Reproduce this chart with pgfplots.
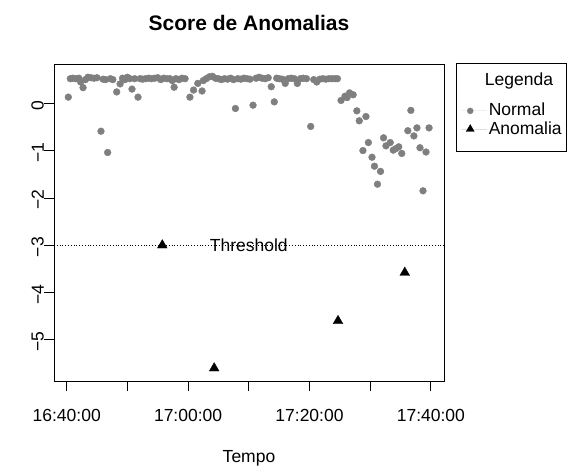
\documentclass[border=0pt]{standalone}
\usepackage{fontspec}
\setmainfont{Liberation Sans}
\usepackage{pgfplots}
\pgfplotsset{compat=1.18}
\definecolor{ptgray}{HTML}{7F7F7F}
\pgfplotstableread{
t y
0.27 0.13
0.6 0.52
1.0 0.53
1.5 0.52
2.0 0.53
2.3 0.45
2.7 0.33
3.1 0.50
3.5 0.55
4.0 0.54
4.5 0.53
5.0 0.54
5.65 -0.59
6.0 0.51
6.4 0.50
6.75 -1.04
7.2 0.52
7.6 0.50
8.24 0.24
8.8 0.41
9.2 0.53
9.6 0.50
10.0 0.55
10.4 0.52
10.76 0.30
11.2 0.52
11.75 0.13
12.1 0.52
12.5 0.51
13.0 0.52
13.5 0.53
14.0 0.52
14.5 0.53
15.0 0.54
15.5 0.50
16.0 0.53
16.5 0.52
17.0 0.52
17.4 0.48
17.7 0.34
18.0 0.52
18.5 0.50
19.0 0.53
19.5 0.52
20.3 0.13
20.9 0.28
21.6 0.42
22.3 0.26
22.5 0.48
23.0 0.52
23.5 0.56
24.0 0.57
24.5 0.53
25.0 0.52
25.5 0.50
26.0 0.52
26.5 0.51
27.0 0.53
27.5 0.50
27.8 -0.11
28.2 0.52
28.7 0.51
29.2 0.53
29.7 0.52
30.2 0.51
30.7 -0.04
31.2 0.53
31.7 0.55
32.2 0.53
32.7 0.52
33.2 0.54
33.7 0.35
34.2 0.03
34.6 0.53
35.0 0.52
35.5 0.51
36.0 0.42
36.5 0.52
37.0 0.53
37.5 0.52
38.0 0.42
38.5 0.52
39.0 0.53
39.5 0.52
40.2 -0.49
40.7 0.50
41.2 0.45
41.7 0.51
42.2 0.52
42.7 0.51
43.2 0.52
43.7 0.52
44.2 0.52
44.6 0.52
45.2 0.06
45.85 0.15
46.2 0.12
46.6 0.22
47.2 0.18
47.8 -0.16
48.2 -0.37
48.8 -1.00
49.3 -0.28
49.7 -0.83
50.3 -1.14
50.7 -1.33
51.2 -1.71
51.7 -1.44
52.2 -0.73
52.6 -0.90
53.3 -0.83
53.8 -0.99
54.2 -0.96
54.7 -0.92
55.2 -1.06
56.2 -0.58
56.7 -0.15
57.2 -0.69
57.7 -0.52
58.2 -0.94
58.7 -1.85
59.2 -1.03
59.7 -0.52
}\normaldata
\pgfplotstableread{
t y
15.75 -3.00
24.3 -5.60
44.7 -4.60
55.7 -3.58
}\anomdata
\begin{document}
\fontsize{17.5}{21}\selectfont
\begin{tikzpicture}[x=1pt,y=1pt]
\useasboundingbox (0,0) rectangle (568,467);
\begin{axis}[
  at={(54pt,86pt)}, anchor=south west,
  scale only axis, width=390pt, height=316.7pt,
  xmin=-2.09, xmax=62.16, ymin=-5.87, ymax=0.824,
  axis line style={line width=0.8pt},
  tick style={line width=0.8pt, black},
  tick align=outside, major tick length=10pt,
  xtick pos=bottom, ytick pos=left,
  xtick={0,10,20,30,40,50,60},
  xticklabels={16:40:00,,17:00:00,,17:20:00,,17:40:00},
  ytick={-5,-4,-3,-2,-1,0},
  yticklabels={−5,−4,−3,−2,−1,0},
  xticklabel style={font=\fontsize{17.5}{21}\selectfont, inner sep=0pt, anchor=north, yshift=-18.5pt},
  yticklabel style={font=\fontsize{17.5}{21}\selectfont, rotate=90, inner sep=0pt, anchor=south, xshift=-2pt},
  legend style={draw=none, fill=none, at={(1.045,0.884)}, anchor=north west,
    font=\fontsize{17.5}{21}\selectfont, row sep=-1pt, inner sep=0pt},
  legend cell align=left,
  legend image code/.code={\path[draw=none] (0pt,0pt) -- (25pt,0pt);\draw[#1] plot coordinates {(8.5pt,0pt)};},
]
\addplot[only marks, mark=*, mark size=3.4pt, draw=ptgray, fill=ptgray,
  forget plot] table[x=t,y=y] {\normaldata};
\addplot[dotted, line width=0.8pt, black, forget plot] coordinates {(-2.09,-3) (62.16,-3)};
\addplot[only marks, mark=triangle*, mark size=5.6pt, draw=black, fill=black,
  forget plot] table[x=t,y=y] {\anomdata};
\addlegendimage{only marks, mark=*, mark size=3pt, draw=ptgray, fill=ptgray}
\addlegendentry{Normal}
\addlegendimage{only marks, mark=triangle*, mark size=4.6pt, draw=black, fill=black}
\addlegendentry{Anomalia}
\node[font=\fontsize{17.5}{21}\selectfont] at (axis cs:30,-3) {Threshold};
\end{axis}
\node[anchor=base, font=\fontsize{21}{25}\selectfont\bfseries] at (249,436.5) {Score de Anomalias};
\node[anchor=base] at (249,5) {Tempo};
\draw[line width=0.8pt] (456,315.5) rectangle (566,403.5);
\node[anchor=base] at (519,381.3) {Legenda};
\end{tikzpicture}
\end{document}
